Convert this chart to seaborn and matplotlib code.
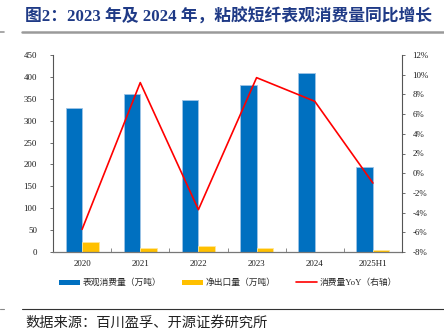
import matplotlib
matplotlib.use("Agg")
import matplotlib.pyplot as plt
from matplotlib.font_manager import FontProperties
from matplotlib.lines import Line2D
from matplotlib.patches import Patch
from matplotlib.colors import to_hex
from matplotlib.ticker import FixedLocator, FuncFormatter, MultipleLocator
import numpy as np
import pandas as pd
import seaborn as sns

# Data
years = ["2020", "2021", "2022", "2023", "2024", "2025H1"]
consumption = [330, 361, 347, 381, 409, 195]       # 表观消费量（万吨）
net_export = [22, 10, 14, 9, 1, 5]                 # 净出口量（万吨）
yoy_pct = [-5.7, 9.2, -3.7, 9.7, 7.3, -1.0]         # 消费量YoY（%）

series_names = ["表观消费量（万吨）", "净出口量（万吨）", "消费量YoY（右轴）"]
title_text = "图2：2023 年及 2024 年，粘胶短纤表观消费量同比增长"
source_text = "数据来源：百川盈孚、开源证券研究所"

BLUE = "#0070C0"
GOLD = "#FFC000"
RED = "#FF0000"
EDGE = {to_hex(BLUE): "#9DC3E6", to_hex(GOLD): "#FFE699"}

sns.set_theme(style="white")
plt.rcParams["font.family"] = ["Liberation Serif", "Noto Sans CJK SC", "DejaVu Sans"]
plt.rcParams["axes.unicode_minus"] = False

df = pd.DataFrame({
    "year": years * 2,
    "value": consumption + net_export,
    "series": [series_names[0]] * len(years) + [series_names[1]] * len(years),
})

fig = plt.figure(figsize=(4.44, 3.36), dpi=100)
ax = fig.add_axes([53 / 444, 84 / 336, 349 / 444, 197 / 336])

sns.barplot(data=df, x="year", y="value", hue="series", order=years,
            hue_order=series_names[:2], palette=[BLUE, GOLD], width=0.57,
            linewidth=0.6, saturation=1, ax=ax, legend=False)
for bar in ax.patches:
    bar.set_edgecolor(EDGE.get(to_hex(bar.get_facecolor()), "none"))

ax.set_ylim(0, 450)
ax.set_xlim(-0.5, len(years) - 0.5)
ax.yaxis.set_major_locator(MultipleLocator(50))
ax.set_xlabel("")
ax.set_ylabel("")

ax2 = ax.twinx()
sns.lineplot(x=np.arange(len(years)), y=yoy_pct, color=RED, linewidth=1.2,
             ax=ax2, legend=False)
ax2.set_ylim(-8, 12)
ax2.yaxis.set_major_locator(MultipleLocator(2))
ax2.yaxis.set_major_formatter(FuncFormatter(lambda v, p: f"{v:.0f}%"))

tick_fp = FontProperties(family=["Liberation Serif", "DejaVu Sans"], size=6.4)
for a in (ax, ax2):
    for s in a.spines.values():
        s.set_visible(False)
ax.spines["left"].set_visible(True)
ax.spines["left"].set_color("#555555")
ax.spines["left"].set_linewidth(0.8)
ax.spines["bottom"].set_visible(True)
ax.spines["bottom"].set_color("#777777")
ax.spines["bottom"].set_linewidth(0.9)
ax2.spines["right"].set_visible(True)
ax2.spines["right"].set_color("#555555")
ax2.spines["right"].set_linewidth(0.8)

ax.tick_params(axis="y", direction="out", length=2.5, width=0.6, color="#555555",
               pad=9, left=True)
ax2.tick_params(axis="y", direction="out", length=2.5, width=0.6, color="#555555",
                pad=5, right=True)
for lbl in ax.get_yticklabels() + ax2.get_yticklabels():
    lbl.set_fontproperties(tick_fp)
    lbl.set_color("#1A1A1A")

ax.xaxis.set_minor_locator(FixedLocator(np.arange(0.5, len(years) - 0.5, 1)))
ax.tick_params(axis="x", which="major", length=0, pad=6)
ax.tick_params(axis="x", which="minor", direction="in", length=3, width=0.6,
               color="#777777", bottom=True)
for lbl in ax.get_xticklabels():
    lbl.set_fontproperties(tick_fp)
    lbl.set_color("#1A1A1A")
ax.grid(False)
ax2.grid(False)

handles = [
    Patch(facecolor=BLUE, edgecolor="none"),
    Patch(facecolor=GOLD, edgecolor="none"),
    Line2D([0], [0], color=RED, linewidth=1.2),
]
fig.legend(handles, series_names, loc="center", bbox_to_anchor=(228 / 444, 1 - 283 / 336),
           ncol=3, frameon=False, handlelength=2.4, handleheight=0.55,
           columnspacing=2.4, handletextpad=0.25,
           prop={"family": ["Liberation Serif", "Noto Sans CJK SC"], "size": 6.3})

# Header and footer rules
fig.add_artist(Line2D([22 / 444, 1.0], [1 - 32 / 336] * 2, color="#9A9A9A", linewidth=1.8))
fig.add_artist(Line2D([0, 4 / 444], [1 - 32 / 336] * 2, color="#9A9A9A", linewidth=1.2))
fig.add_artist(Line2D([22 / 444, 1.0], [1 - 309 / 336] * 2, color="#333333", linewidth=0.8))
fig.add_artist(Line2D([0, 4 / 444], [1 - 309 / 336] * 2, color="#888888", linewidth=0.8))

fig.text(25 / 444, 1 - 17 / 336, title_text, ha="left", va="center",
         fontsize=12.1, fontweight="bold", color="#1F3A86",
         family=["Liberation Serif", "Noto Sans CJK SC"])
fig.text(25 / 444, 1 - 323 / 336, source_text, ha="left", va="center",
         fontsize=10.3, color="#222222", family=["Noto Sans CJK SC", "DejaVu Sans"])

fig.savefig("out.png", dpi=100)
